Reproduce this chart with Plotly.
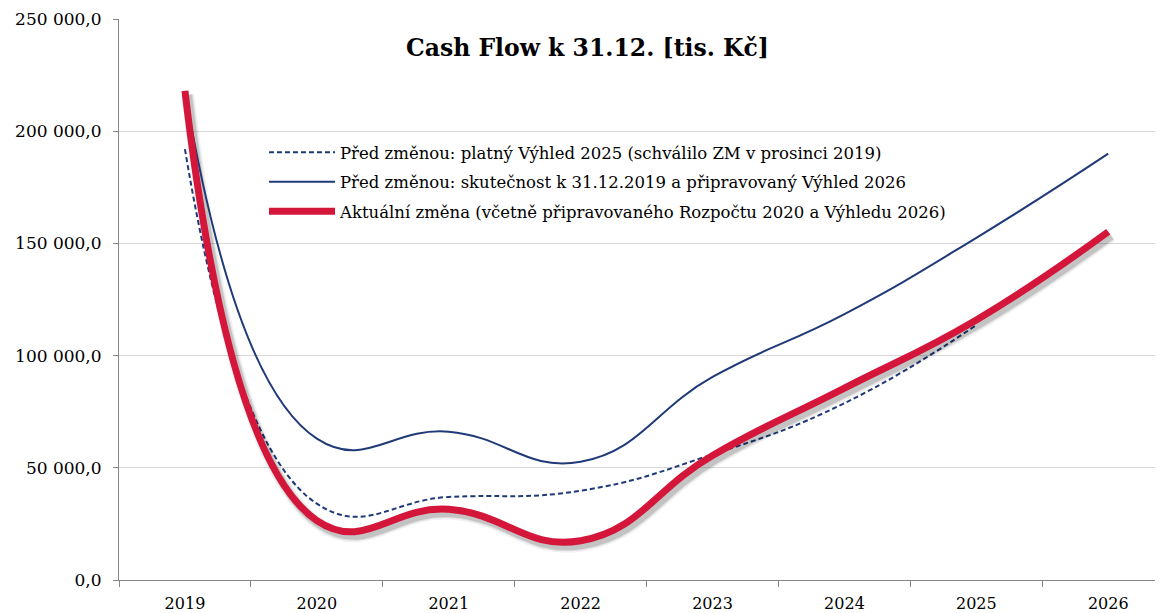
import plotly.graph_objects as go

years = ["2019", "2020", "2021", "2022", "2023", "2024", "2025", "2026"]
vyhled_2025 = [192000, 34000, 37000, 39800, 56000, 78800, 113600, None]
skutecnost_2026 = [218000, 63000, 66100, 52700, 90500, 118500, 152500, 190000]
aktualni_zmena = [218000, 26500, 31500, 17500, 55500, 85500, 115900, 155200]

names = [
    "Před změnou: platný Výhled 2025 (schválilo ZM v prosinci 2019)",
    "Před změnou: skutečnost k 31.12.2019 a připravovaný Výhled 2026",
    "Aktuální změna (včetně připravovaného Rozpočtu 2020 a Výhledu 2026)",
]
title_text = "Cash Flow k 31.12. [tis. Kč]"

RED = "#D3163A"
BLUE = "#1F3A78"
FONT = "DejaVu Serif"

# the page body adds an 8px offset; the figure is sized to fill the window
OFF = 8
W, H = 1163 - OFF, 613 - OFF
ML, MR, MT, MB = 119 - OFF, 0, 19 - OFF, 33
pw = W - ML - MR
ph = H - MT - MB
cat_px = 131.9
xr = [-0.5, -0.5 + pw / cat_px]
yr = [0, 250000]

# shadow offsets (pixels) expressed as axis-range shifts
sdx = 3 / cat_px
sdy = 4 * (yr[1] - yr[0]) / ph


def px_x(win_x):
    return (win_x - OFF - ML) / pw


def px_y(win_y):
    return (MT + ph - (win_y - OFF)) / ph


fig = go.Figure()

fig.add_trace(go.Scatter(
    x=years, y=vyhled_2025, mode="lines", name=names[0],
    line=dict(color=BLUE, width=2, dash="5px,3px", shape="spline", smoothing=1.3),
    legendgroup="a", hoverinfo="skip"))

for w, a in [(13, 0.05), (10, 0.08), (8, 0.12)]:
    fig.add_trace(go.Scatter(
        x=years, y=aktualni_zmena, xaxis="x2", yaxis="y2", mode="lines",
        line=dict(color=f"rgba(0,0,0,{a})", width=w, shape="spline", smoothing=1.3),
        showlegend=False, hoverinfo="skip"))

fig.add_trace(go.Scatter(
    x=years, y=skutecnost_2026, xaxis="x3", yaxis="y3", mode="lines", name=names[1],
    line=dict(color=BLUE, width=2, shape="spline", smoothing=1.3),
    legendgroup="b", hoverinfo="skip"))
fig.add_trace(go.Scatter(
    x=years, y=aktualni_zmena, xaxis="x3", yaxis="y3", mode="lines", name=names[2],
    line=dict(color=RED, width=7, shape="spline", smoothing=1.3),
    legendgroup="c", hoverinfo="skip"))

axis_common_x = dict(type="category", categoryorder="array", categoryarray=years,
                     automargin=False)

fig.update_layout(
    width=W, height=H,
    margin=dict(l=ML, r=MR, t=MT, b=MB, autoexpand=False),
    paper_bgcolor="white", plot_bgcolor="white",
    separators=", ",
    font=dict(family=FONT, color="black"),
    xaxis=dict(**axis_common_x, range=xr, tickson="boundaries", ticks="outside",
               ticklen=6, tickcolor="#868686", showline=True, linecolor="#868686",
               linewidth=1, showgrid=False, tickfont=dict(family=FONT, size=16, color="black"),
               ticklabelstandoff=9),
    yaxis=dict(range=yr, dtick=50000, tickformat=",.1f", showgrid=True, gridcolor="#D9D9D9",
               gridwidth=1, showline=True, linecolor="#868686", linewidth=1, ticks="outside",
               ticklen=5, tickcolor="#868686", zeroline=False,
               tickfont=dict(family=FONT, size=17, color="black"), automargin=False,
               ticklabelstandoff=8),
    xaxis2=dict(**axis_common_x, overlaying="x", range=[xr[0] - sdx, xr[1] - sdx], visible=False),
    yaxis2=dict(overlaying="y", range=[yr[0] + sdy, yr[1] + sdy], visible=False, automargin=False),
    xaxis3=dict(**axis_common_x, overlaying="x", range=xr, visible=False),
    yaxis3=dict(overlaying="y", range=yr, visible=False, automargin=False),
    legend=dict(x=px_x(264), y=px_y(135), xanchor="left", yanchor="top",
                bgcolor="rgba(0,0,0,0)", font=dict(family=FONT, size=16.5, color="black"),
                traceorder="grouped", tracegroupgap=5, itemwidth=66),
    showlegend=True,
    annotations=[dict(text=f"<b>{title_text}</b>", xref="paper", yref="paper",
                      x=px_x(587), y=px_y(48), xanchor="center", yanchor="middle",
                      showarrow=False, font=dict(family=FONT, size=23.5, color="black"))],
)

fig.write_html("out.html")
